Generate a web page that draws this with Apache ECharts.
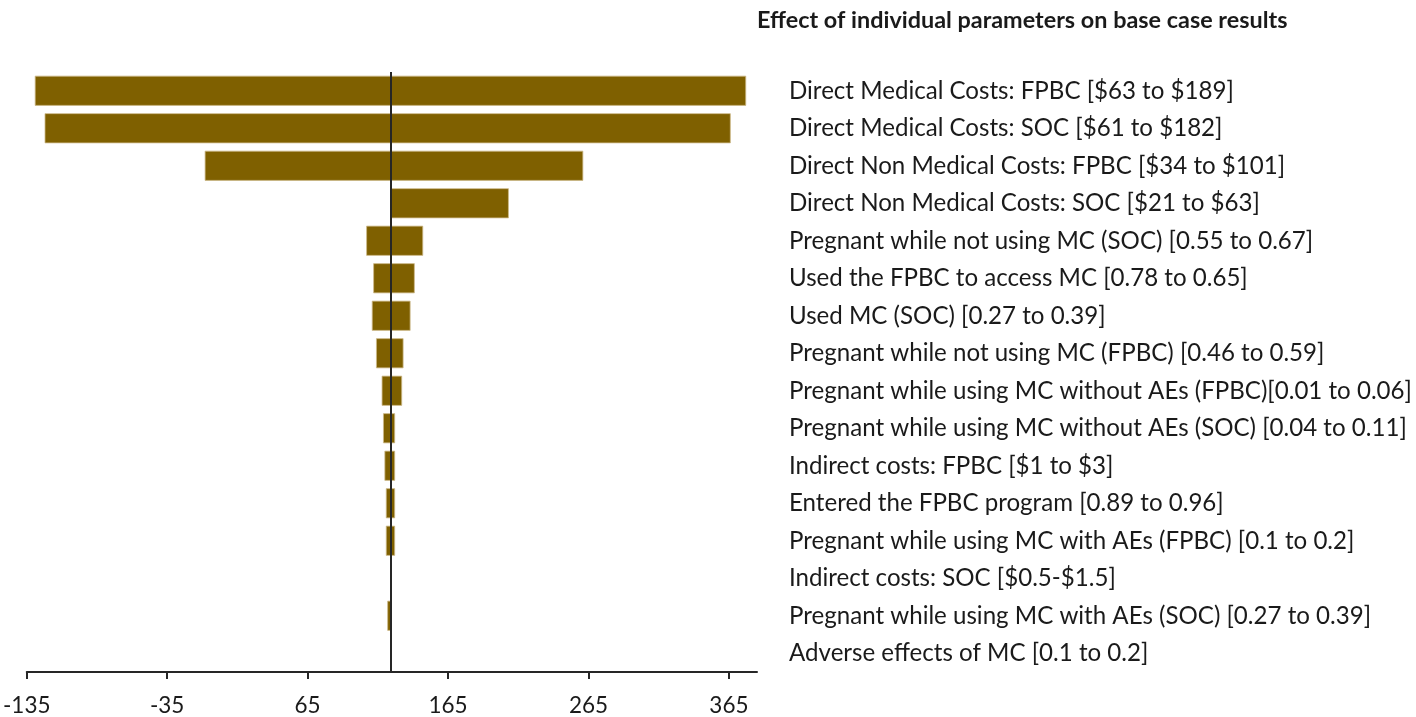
<!DOCTYPE html>
<html>
<head>
<meta charset="utf-8">
<script src="https://cdn.jsdelivr.net/npm/echarts@6/dist/echarts.min.js"></script>
<style>
html,body{margin:0;padding:0;background:#fff;}
#chart{width:1416px;height:717px;}
</style>
</head>
<body>
<div id="chart"></div>
<script>
const titleText = 'Effect of individual parameters on base case results';
const categories = [
  'Direct Medical Costs: FPBC [$63 to $189]',
  'Direct Medical Costs: SOC [$61 to $182]',
  'Direct Non Medical Costs: FPBC [$34 to $101]',
  'Direct Non Medical Costs: SOC [$21 to $63]',
  'Pregnant while not using MC (SOC) [0.55 to 0.67]',
  'Used the FPBC to access MC [0.78 to 0.65]',
  'Used MC (SOC) [0.27 to 0.39]',
  'Pregnant while not using MC (FPBC) [0.46 to 0.59]',
  'Pregnant while using MC without AEs (FPBC)[0.01 to 0.06]',
  'Pregnant while using MC without AEs (SOC) [0.04 to 0.11]',
  'Indirect costs: FPBC [$1 to $3]',
  'Entered the FPBC program [0.89 to 0.96]',
  'Pregnant while using MC with AEs (FPBC) [0.1 to 0.2]',
  'Indirect costs: SOC [$0.5-$1.5]',
  'Pregnant while using MC with AEs (SOC) [0.27 to 0.39]',
  'Adverse effects of MC [0.1 to 0.2]'
];
const baseCase = 124.5;
const lowValues  = [-129, -122, -8, 124.5, 107, 112, 111, 114, 118, 119, 120, 121, 121, null, 122, null];
const highValues = [ 377,  366, 261, 208, 147, 141, 138, 133, 132, 127, 127, 127, 127, null, 124.5, null];
const xTicks = [-135, -35, 65, 165, 265, 365];

const barData = [];
categories.forEach((c, i) => {
  if (lowValues[i] != null && highValues[i] != null) barData.push([i, lowValues[i], highValues[i]]);
});

const BAR_COLOR = '#7F6000';
const FONT = 'Lato';

function renderItem(params, api) {
  const cat = api.value(0);
  const lo = api.value(1);
  const hi = api.value(2);
  const pLo = api.coord([lo, cat]);
  const pBase = api.coord([baseCase, cat]);
  const pHi = api.coord([hi, cat]);
  const h = api.size([0, 1])[1] * 0.78;
  const style = { fill: BAR_COLOR, stroke: '#cdb989', lineWidth: 0.8 };
  const children = [];
  if (pBase[0] - pLo[0] > 0.5) {
    children.push({ type: 'rect', shape: { x: pLo[0], y: pLo[1] - h / 2, width: pBase[0] - pLo[0], height: h }, style: style });
  }
  if (pHi[0] - pBase[0] > 0.5) {
    children.push({ type: 'rect', shape: { x: pBase[0], y: pBase[1] - h / 2, width: pHi[0] - pBase[0], height: h }, style: style });
  }
  return { type: 'group', children: children };
}

const chart = echarts.init(document.getElementById('chart'), null, { renderer: 'canvas' });
chart.setOption({
  animation: false,
  backgroundColor: '#ffffff',
  title: {
    text: titleText,
    left: 752,
    top: 4,
    textStyle: { fontFamily: FONT, fontWeight: 'bold', fontSize: 23.4, color: '#1a1a1a' }
  },
  grid: { left: 26, right: 659, top: 72, bottom: 44, containLabel: false },
  xAxis: {
    type: 'value',
    min: -135,
    max: 385,
    interval: 100,
    splitLine: { show: false },
    axisLine: { show: true, lineStyle: { color: '#262626', width: 2 } },
    axisTick: { show: true, length: 7, lineStyle: { color: '#262626', width: 2 }, customValues: xTicks },
    axisLabel: { fontFamily: FONT, fontSize: 22.5, color: '#1a1a1a', margin: 22, customValues: xTicks }
  },
  yAxis: {
    type: 'category',
    data: categories,
    inverse: true,
    position: 'right',
    axisLine: { show: false },
    axisTick: { show: false },
    splitLine: { show: false },
    axisLabel: { fontFamily: FONT, fontSize: 24.1, color: '#1a1a1a', align: 'left', margin: 32 }
  },
  series: [{
    type: 'custom',
    renderItem: renderItem,
    encode: { y: 0, x: [1, 2] },
    data: barData,
    z: 2,
    markLine: {
      silent: true,
      symbol: ['none', 'none'],
      z: 10,
      label: { show: false },
      lineStyle: { color: '#262626', width: 2, type: 'solid' },
      data: [{ xAxis: baseCase }]
    }
  }]
});
</script>
</body>
</html>
